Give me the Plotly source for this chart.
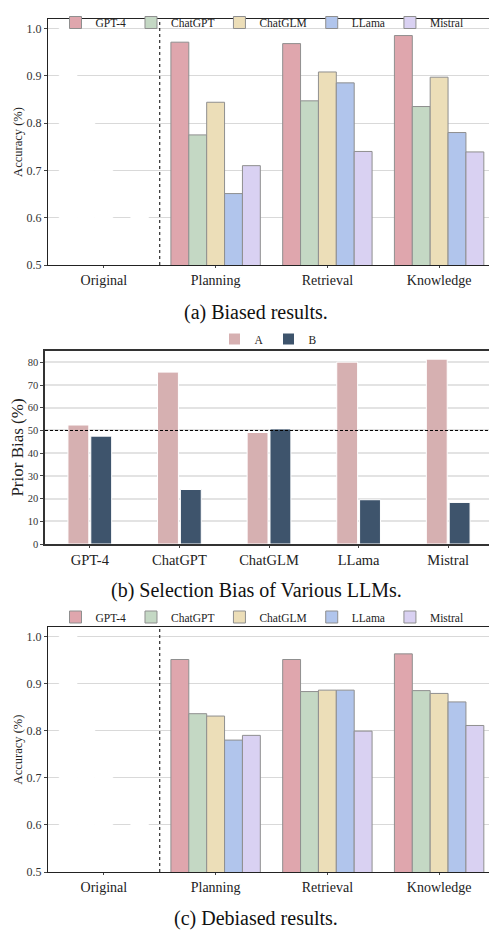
import plotly.graph_objects as go

# ---------------- data ----------------
categories = ["Original", "Planning", "Retrieval", "Knowledge"]
task_categories = ["Planning", "Retrieval", "Knowledge"]
models = ["GPT-4", "ChatGPT", "ChatGLM", "LLama", "Mistral"]

# hidden (white) bars in the "Original" group
original_hidden = [1.02, 0.85, 0.75, 0.55, 0.65]

# (a) biased results: Planning, Retrieval, Knowledge
gpt4_biased = [0.971, 0.968, 0.985]
chatgpt_biased = [0.775, 0.847, 0.835]
chatglm_biased = [0.844, 0.908, 0.897]
llama_biased = [0.651, 0.885, 0.780]
mistral_biased = [0.710, 0.740, 0.739]

# (c) debiased results
gpt4_debiased = [0.951, 0.951, 0.963]
chatgpt_debiased = [0.836, 0.883, 0.885]
chatglm_debiased = [0.831, 0.886, 0.879]
llama_debiased = [0.780, 0.886, 0.861]
mistral_debiased = [0.790, 0.799, 0.811]

# (b) selection bias
llm_names = ["GPT-4", "ChatGPT", "ChatGLM", "LLama", "Mistral"]
bias_A = [52.4, 75.7, 49.1, 80.1, 81.4]
bias_B = [47.5, 24.0, 50.7, 19.5, 18.3]

acc_ticks = [0.5, 0.6, 0.7, 0.8, 0.9, 1.0]
bias_ticks = [0, 10, 20, 30, 40, 50, 60, 70, 80]

# ---------------- style ----------------
FONT = "Liberation Serif"
colors = ["#dfa6ad", "#c4d8c4", "#ecdeb8", "#b1c5ec", "#d9d1f2"]
edge = "#8f8f8f"
colA, colB = "#d6b0b1", "#3e546c"

GROUP_W = 0.8
BAR_W = GROUP_W / len(models)

biased = [gpt4_biased, chatgpt_biased, chatglm_biased, llama_biased, mistral_biased]
debiased = [gpt4_debiased, chatgpt_debiased, chatglm_debiased, llama_debiased, mistral_debiased]

fig = go.Figure()

for vals, xa, ya, leg in [
    (biased, "x", "y", "legend"),
    (debiased, "x3", "y3", "legend3"),
]:
    for i, m in enumerate(models):
        off = -GROUP_W / 2 + i * BAR_W
        fig.add_trace(go.Bar(
            x=["Original"], y=[original_hidden[i]],
            xaxis=xa, yaxis=ya, width=BAR_W, offset=off,
            marker=dict(color="#ffffff", line=dict(color="#ffffff", width=0.5)),
            showlegend=False, hoverinfo="skip", legend=leg,
        ))
        fig.add_trace(go.Bar(
            x=task_categories, y=vals[i], name=m,
            xaxis=xa, yaxis=ya, width=BAR_W, offset=off, legend=leg,
            marker=dict(color=colors[i], line=dict(color=edge, width=1)),
        ))

fig.add_trace(go.Bar(
    x=llm_names, y=bias_A, name="A", xaxis="x2", yaxis="y2", legend="legend2",
    width=0.233, offset=-0.244,
    marker=dict(color=colA, line=dict(color="white", width=1)),
))
fig.add_trace(go.Bar(
    x=llm_names, y=bias_B, name="B", xaxis="x2", yaxis="y2", legend="legend2",
    width=0.233, offset=0.011,
    marker=dict(color=colB, line=dict(color="white", width=1)),
))

# the page body has an 8px margin: lay the figure out in window pixels
PAD = 8
W, H = 497 - PAD, 933 - PAD

def px_(x):
    return (x - PAD) / W

def py(y):
    return (H - (y - PAD)) / H

acc_y = dict(
    range=[0.5, 1.02], tickvals=acc_ticks, tickformat=".1f",
    showgrid=True, gridcolor="#d9d9d9", gridwidth=1,
    showline=True, linecolor="#222", linewidth=1.2, mirror=True,
    ticks="outside", ticklen=3, tickcolor="#444",
    tickfont=dict(family=FONT, size=12, color="#333"),
    title=dict(text="Accuracy (%)", font=dict(family=FONT, size=12.5, color="#222"), standoff=1),
    zeroline=False, automargin=False,
)
acc_x = dict(
    type="category", categoryorder="array", categoryarray=categories, range=[-0.5, 3.5],
    showline=True, linecolor="#222", linewidth=1.2, mirror=True,
    ticks="outside", ticklen=2, tickcolor="#444", showgrid=False,
    tickfont=dict(family=FONT, size=14, color="#222"), automargin=False,
)

legend_font = dict(family=FONT, size=11.5, color="#222")

fig.update_layout(
    width=W, height=H,
    margin=dict(l=0, r=0, t=0, b=0, autoexpand=False),
    paper_bgcolor="white", plot_bgcolor="white",
    barmode="overlay",
    font=dict(family=FONT, color="#222"),
    xaxis=dict(acc_x, domain=[px_(48), px_(495)], anchor="y"),
    yaxis=dict(acc_y, domain=[py(265), py(19)], anchor="x"),
    xaxis3=dict(acc_x, domain=[px_(48), px_(495)], anchor="y3"),
    yaxis3=dict(acc_y, domain=[py(872), py(627)], anchor="x3"),
    xaxis2=dict(
        type="category", domain=[px_(45), px_(493)], anchor="y2", range=[-0.5, 4.5],
        categoryorder="array", categoryarray=llm_names,
        showline=True, linecolor="#333", linewidth=1.5, mirror=True,
        ticks="outside", ticklen=2, tickcolor="#444", showgrid=False,
        tickfont=dict(family=FONT, size=14.5, color="#222"), automargin=False,
    ),
    yaxis2=dict(
        domain=[py(544), py(351)], anchor="x2", range=[0, 85], tickvals=bias_ticks,
        showgrid=True, gridcolor="#e3e3e3", gridwidth=1.5,
        showline=True, linecolor="#333", linewidth=1.5, mirror=True,
        ticks="outside", ticklen=3, tickcolor="#444",
        tickfont=dict(family=FONT, size=10.5, color="#333"),
        title=dict(text="Prior Bias (%)", font=dict(family=FONT, size=17, color="#222"), standoff=2),
        zeroline=False, automargin=False,
    ),
    legend=dict(orientation="h", x=px_(262), xanchor="center", y=py(8), yanchor="top",
                font=legend_font, bgcolor="rgba(0,0,0,0)", borderwidth=0),
    legend2=dict(orientation="h", x=px_(268), xanchor="center", y=py(339), yanchor="middle",
                 font=legend_font, bgcolor="rgba(0,0,0,0)"),
    legend3=dict(orientation="h", x=px_(262), xanchor="center", y=py(617), yanchor="middle",
                 font=legend_font, bgcolor="rgba(0,0,0,0)"),
    shapes=[
        dict(type="line", xref="x", yref="y domain", x0=0.5, x1=0.5, y0=0, y1=1,
             line=dict(color="black", width=1, dash="dot")),
        dict(type="line", xref="x3", yref="y3 domain", x0=0.5, x1=0.5, y0=0, y1=1,
             line=dict(color="black", width=1, dash="dot")),
        dict(type="line", xref="x2 domain", yref="y2", x0=0, x1=1, y0=50, y1=50,
             line=dict(color="black", width=1, dash="3px,2px")),
    ],
    annotations=[
        dict(text="(a) Biased results.", xref="paper", yref="paper", x=px_(256), y=py(312),
             yanchor="middle", showarrow=False, font=dict(family=FONT, size=20, color="#111")),
        dict(text="(b) Selection Bias of Various LLMs.", xref="paper", yref="paper", x=px_(256), y=py(590),
             yanchor="middle", showarrow=False, font=dict(family=FONT, size=20, color="#111")),
        dict(text="(c) Debiased results.", xref="paper", yref="paper", x=px_(256), y=py(918),
             yanchor="middle", showarrow=False, font=dict(family=FONT, size=20, color="#111")),
    ],
)

fig.write_html("out.html")
